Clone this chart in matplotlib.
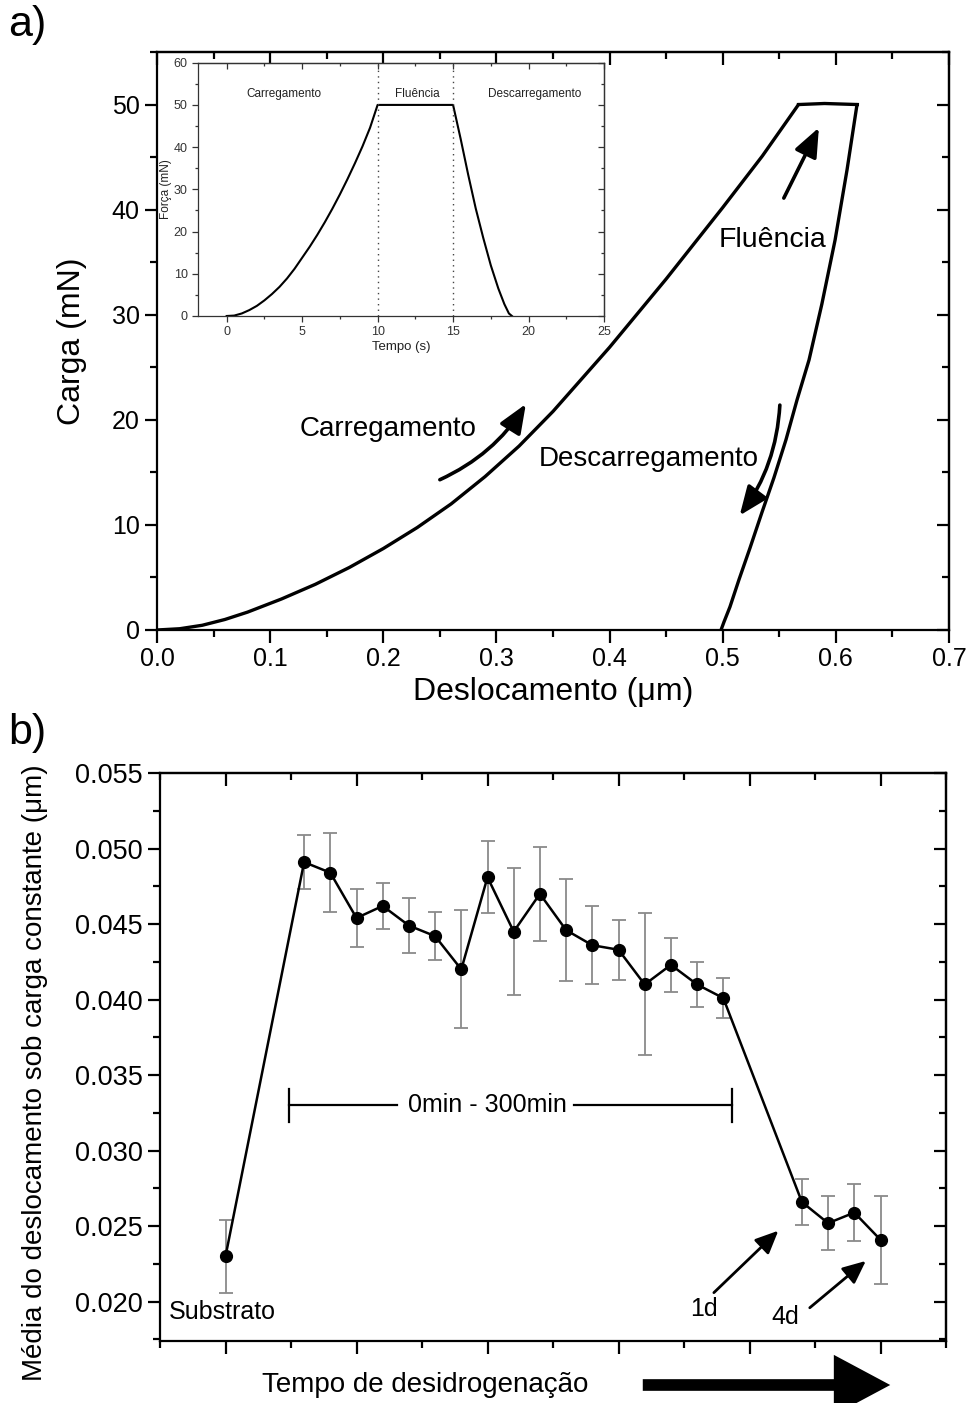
import matplotlib
matplotlib.use("Agg")
import matplotlib.pyplot as plt
from matplotlib.ticker import MultipleLocator, NullFormatter, FormatStrFormatter
from matplotlib.patches import FancyArrowPatch

plt.rcParams['font.family'] = ['Liberation Sans', 'DejaVu Sans']

# ---------------- data: panel a) main curve ----------------
load_x = [0.0, 0.02, 0.04, 0.06, 0.08, 0.11, 0.14, 0.17, 0.20, 0.23, 0.26, 0.29,
          0.32, 0.35, 0.40, 0.45, 0.50, 0.535, 0.567]
load_y = [0.0, 0.12, 0.45, 1.0, 1.7, 2.95, 4.35, 5.95, 7.75, 9.75, 12.0, 14.6,
          17.5, 20.8, 26.9, 33.4, 40.2, 45.1, 50.0]
creep_x = [0.567, 0.590, 0.619]
creep_y = [50.0, 50.1, 50.0]
unload_x = [0.6187, 0.6099, 0.5993, 0.5876, 0.5763, 0.5657, 0.5559, 0.5453, 0.5347,
            0.5241, 0.5144, 0.5064, 0.5011, 0.4985]
unload_y = [50.0, 43.8, 37.1, 31.0, 25.7, 21.9, 18.1, 14.5, 11.2,
            7.8, 4.8, 2.2, 0.76, 0.0]

# ---------------- data: inset ----------------
inset_t = [0, 0.5, 1, 1.5, 2, 2.5, 3, 3.5, 4, 4.5, 5, 5.5, 6, 6.5, 7, 7.5, 8, 8.5,
           9, 9.5, 10, 15, 15.5, 16, 16.5, 17, 17.5, 18, 18.4, 18.7, 18.9]
inset_f = [0, 0.1, 0.6, 1.4, 2.4, 3.7, 5.2, 6.9, 8.9, 11.2, 13.8, 16.4, 19.2, 22.2,
           25.4, 28.8, 32.4, 36.2, 40.2, 44.6, 50, 50, 42.0, 33.5, 25.5, 18.5, 12.0,
           6.5, 2.8, 0.6, 0]
inset_phase_lines = [10, 15]
inset_phase_labels = ["Carregamento", "Fluência", "Descarregamento"]
inset_phase_pos = [3.8, 12.6, 20.4]

# ---------------- data: panel b) ----------------
b_x = [0, 3, 4, 5, 6, 7, 8, 9, 10, 11, 12, 13, 14, 15, 16, 17, 18, 19, 22, 23, 24, 25]
b_y = [0.0230, 0.0491, 0.0484, 0.0454, 0.0462, 0.0449, 0.0442, 0.0420, 0.0481,
       0.0445, 0.0470, 0.0446, 0.0436, 0.0433, 0.0410, 0.0423, 0.0410, 0.0401,
       0.0266, 0.0252, 0.0259, 0.0241]
b_err = [0.0024, 0.0018, 0.0026, 0.0019, 0.0015, 0.0018, 0.0016, 0.0039, 0.0024,
         0.0042, 0.0031, 0.0034, 0.0026, 0.0020, 0.0047, 0.0018, 0.0015, 0.0013,
         0.0015, 0.0018, 0.0019, 0.0029]

W, H = 968, 1403
fig = plt.figure(figsize=(W / 100, H / 100), dpi=100)


def base_ticks(ax, lw, major, minor, labelsize):
    for s in ax.spines.values():
        s.set_linewidth(lw)
    ax.tick_params(which='both', direction='out', width=lw, labelsize=labelsize,
                   top=False, right=False)
    ax.tick_params(which='major', length=major)
    ax.tick_params(which='minor', length=minor)


def mirror_ticks(ax, xmaj, xmin, ymaj, ymin, lw, major, minor, color='k'):
    st = ax.secondary_xaxis('top')
    st.xaxis.set_major_locator(MultipleLocator(xmaj))
    st.xaxis.set_minor_locator(MultipleLocator(xmin))
    st.tick_params(which='both', direction='in', width=lw, labeltop=False, colors=color)
    st.tick_params(which='major', length=major)
    st.tick_params(which='minor', length=minor)
    st.spines['top'].set_linewidth(lw)
    st.spines['top'].set_color(color)
    sr = ax.secondary_yaxis('right')
    sr.yaxis.set_major_locator(MultipleLocator(ymaj))
    sr.yaxis.set_minor_locator(MultipleLocator(ymin))
    sr.tick_params(which='both', direction='in', width=lw, labelright=False, colors=color)
    sr.tick_params(which='major', length=major)
    sr.tick_params(which='minor', length=minor)
    sr.spines['right'].set_linewidth(lw)
    sr.spines['right'].set_color(color)


# ================= panel a =================
ax1 = fig.add_axes([157 / W, 1 - 630 / H, (949 - 157) / W, (630 - 52) / H])
ax1.plot(load_x, load_y, color='k', lw=2.4, solid_capstyle='round', solid_joinstyle='round')
ax1.plot(creep_x, creep_y, color='k', lw=2.4, solid_joinstyle='round')
ax1.plot(unload_x, unload_y, color='k', lw=2.4, solid_capstyle='round', solid_joinstyle='round')
ax1.set_xlim(0, 0.7)
ax1.set_ylim(0, 55)
ax1.xaxis.set_major_locator(MultipleLocator(0.1))
ax1.xaxis.set_minor_locator(MultipleLocator(0.05))
ax1.yaxis.set_major_locator(MultipleLocator(10))
ax1.yaxis.set_minor_locator(MultipleLocator(5))
ax1.xaxis.set_major_formatter(FormatStrFormatter('%.1f'))
base_ticks(ax1, 1.6, 9, 5, 18)
mirror_ticks(ax1, 0.1, 0.05, 10, 5, 1.6, 9, 5)
ax1.set_xlabel('Deslocamento (μm)', fontsize=23, labelpad=4)
ax1.set_ylabel('Carga (mN)', fontsize=23)
ax1.yaxis.set_label_coords(-0.089, 0.5)

arrow_kw = dict(arrowstyle='-|>,head_length=1.1,head_width=0.45', color='k', lw=2.6,
                mutation_scale=16, shrinkA=0, shrinkB=0)
ax1.annotate('', xy=(0.326, 21.5), xytext=(0.250, 14.3),
             arrowprops=dict(connectionstyle='arc3,rad=0.15', **arrow_kw))
ax1.annotate('', xy=(0.585, 47.8), xytext=(0.554, 41.1),
             arrowprops=dict(connectionstyle='arc3,rad=0', **arrow_kw))
ax1.annotate('', xy=(0.515, 10.9), xytext=(0.5505, 21.4),
             arrowprops=dict(connectionstyle='arc3,rad=-0.15', **arrow_kw))
ax1.text(0.204, 19.1, 'Carregamento', fontsize=20, ha='center', va='center')
ax1.text(0.5436, 37.1, 'Fluência', fontsize=20.5, ha='center', va='center')
ax1.text(0.435, 16.3, 'Descarregamento', fontsize=20, ha='center', va='center')

fig.text(8 / W, 1 - 25 / H, 'a)', fontsize=31, ha='left', va='center')

# ================= inset =================
axi = fig.add_axes([198 / W, 1 - 316 / H, (604 - 198) / W, (316 - 62.7) / H])
axi.plot(inset_t, inset_f, color='k', lw=1.5, solid_joinstyle='round')
for t in inset_phase_lines:
    axi.axvline(t, color='#444444', lw=1.0, ls=(0, (1, 3)))
for lab, pos in zip(inset_phase_labels, inset_phase_pos):
    axi.text(pos, 52.7, lab, fontsize=8.5, ha='center', va='center', color='#222222')
axi.set_xlim(-1.9, 25)
axi.set_ylim(0, 60)
axi.xaxis.set_major_locator(MultipleLocator(5))
axi.xaxis.set_minor_locator(MultipleLocator(2.5))
axi.yaxis.set_major_locator(MultipleLocator(10))
axi.yaxis.set_minor_locator(MultipleLocator(5))
base_ticks(axi, 0.9, 4, 2, 9)
axi.tick_params(colors='#333333', which='both')
for s in axi.spines.values():
    s.set_color('#333333')
mirror_ticks(axi, 5, 2.5, 10, 5, 0.9, 4, 2, color='#333333')
axi.set_xlabel('Tempo (s)', fontsize=9.5, labelpad=2, color='#222222')
axi.set_ylabel('Força (mN)', fontsize=8.5, labelpad=1, color='#222222')

# ================= panel b =================
ax2 = fig.add_axes([160 / W, 1 - 1341 / H, (946 - 160) / W, (1341 - 773) / H])
ax2.errorbar(b_x, b_y, yerr=b_err, fmt='none', ecolor='#8a8a8a', elinewidth=1.3,
             capsize=5, capthick=1.3, zorder=2)
ax2.plot(b_x, b_y, color='k', lw=1.8, marker='o', markersize=8.5, zorder=3)
ax2.set_xlim(-2.5, 27.5)
ax2.set_ylim(0.0174, 0.055)
ax2.xaxis.set_major_locator(MultipleLocator(5))
ax2.xaxis.set_minor_locator(MultipleLocator(2.5))
ax2.yaxis.set_major_locator(MultipleLocator(0.005))
ax2.yaxis.set_minor_locator(MultipleLocator(0.0025))
ax2.yaxis.set_major_formatter(FormatStrFormatter('%.3f'))
ax2.xaxis.set_major_formatter(NullFormatter())
base_ticks(ax2, 1.6, 9, 5, 19.5)
mirror_ticks(ax2, 5, 2.5, 0.005, 0.0025, 1.6, 9, 5)
ax2.set_ylabel('Média do deslocamento sob carga constante (μm)', fontsize=20)
ax2.yaxis.set_label_coords(-0.142, 0.472)

# 0min - 300min bracket
bar_y = 0.0330
ax2.plot([2.42, 6.55], [bar_y, bar_y], color='k', lw=1.6)
ax2.plot([13.3, 19.35], [bar_y, bar_y], color='k', lw=1.6)
ax2.plot([2.42, 2.42], [bar_y - 0.0011, bar_y + 0.0011], color='k', lw=1.6)
ax2.plot([19.35, 19.35], [bar_y - 0.0011, bar_y + 0.0011], color='k', lw=1.6)
ax2.text(10.0, bar_y, '0min - 300min', fontsize=18, ha='center', va='center')

ax2.text(-2.15, 0.0193, 'Substrato', fontsize=18, ha='left', va='center')
ax2.text(18.26, 0.0195, '1d', fontsize=18, ha='center', va='center')
ax2.text(21.35, 0.0190, '4d', fontsize=18, ha='center', va='center')
arrow_b = dict(arrowstyle='-|>,head_length=1.0,head_width=0.45', color='k', lw=2.0,
               mutation_scale=14, shrinkA=0, shrinkB=0)
ax2.annotate('', xy=(21.1, 0.0247), xytext=(18.64, 0.0206), arrowprops=arrow_b)
ax2.annotate('', xy=(24.44, 0.0227), xytext=(22.3, 0.0196), arrowprops=arrow_b)

fig.text(8 / W, 1 - 733 / H, 'b)', fontsize=31, ha='left', va='center')
fig.text(425 / W, 1 - 1385 / H, 'Tempo de desidrogenação', fontsize=20, ha='center', va='center')
big = FancyArrowPatch((640 / W, 1 - 1385 / H), (893 / W, 1 - 1385 / H),
                      transform=fig.transFigure,
                      arrowstyle='simple,head_length=2.9,head_width=3.1,tail_width=0.6',
                      mutation_scale=14, color='k', lw=0)
fig.add_artist(big)

fig.savefig('out.png', dpi=100)
